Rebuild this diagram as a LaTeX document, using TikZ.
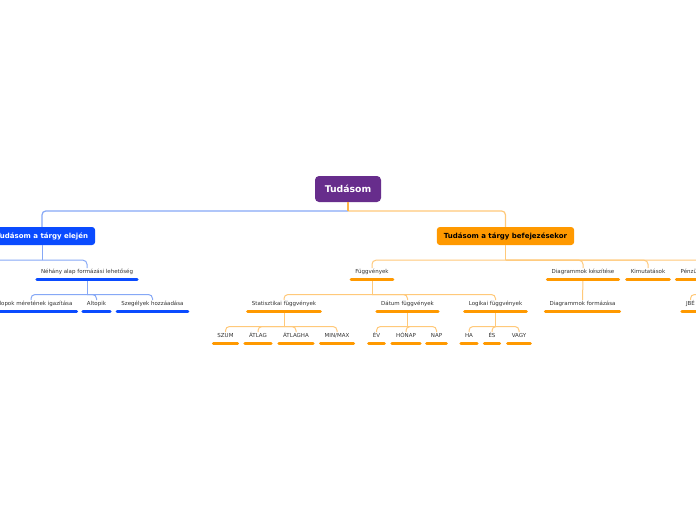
\documentclass[tikz,border=0pt]{standalone}
\usepackage{fontspec}
\setmainfont{DejaVu Sans}
\usetikzlibrary{calc}
\definecolor{purp}{HTML}{672D8C}
\definecolor{bl}{HTML}{0A4BFF}
\definecolor{blline}{HTML}{86A8F6}
\definecolor{orb}{HTML}{FF9900}
\definecolor{orline}{HTML}{FFC97A}
\definecolor{txt}{HTML}{333333}
\begin{document}
\begin{tikzpicture}[x=1pt,y=-1pt,
  rootbox/.style={fill=purp, text=white, font=\fontsize{9.3}{11}\selectfont\bfseries, rounded corners=4pt, minimum width=66pt, minimum height=26pt, inner sep=0pt},
  mainbox/.style={rounded corners=3pt, minimum height=18pt, inner xsep=7pt, inner ysep=0pt, font=\fontsize{7}{8}\selectfont\bfseries},
  mainbl/.style={mainbox, fill=bl, text=white},
  mainor/.style={mainbox, fill=orb, text=black},
  lbl/.style={font=\fontsize{5.5}{6.5}\selectfont, text=txt, text height=4pt, text depth=4.6pt, inner xsep=4pt, inner ysep=1pt, anchor=south},
  blbar/.style={draw=bl, line width=3pt, line cap=round},
  orbar/.style={draw=orb, line width=3pt, line cap=round},
  blconn/.style={draw=blline, line width=1pt, rounded corners=4pt},
  orconn/.style={draw=orline, line width=1pt, rounded corners=4pt},
  stem/.style={draw=orline!60!orb, line width=1pt}
]
\useasboundingbox (0,0) rectangle (696,520);
\fill[white] (0,0) rectangle (696,520);

% root and main topics
\node[rootbox] (root) at (348,189) {Tudásom};
\node[mainbl] (lt) at (42,236) {Tudásom a tárgy elején};
\node[mainor] (rt) at (505.5,236) {Tudásom a tárgy befejezésekor};

% left subtree
\node[lbl] (nah) at (87,279) {Néhány alap formázási lehetőség};
\node[lbl] (osz) at (31,311) {Oszlopok méretének igazítása};
\node[lbl] (alt) at (96.5,311) {Altopik};
\node[lbl] (sze) at (152.5,311) {Szegélyek hozzáadása};
\coordinate (offl) at (-60,300);

% right subtree
\node[lbl] (fv) at (372,279) {Függvények};
\node[lbl] (dk) at (583,279) {Diagrammok készítése};
\node[lbl] (kim) at (648,279) {Kimutatások};
\node[lbl] (pf) at (710,279) {Pénzügyi függvények};
\node[lbl] (stat) at (284,311) {Statisztikai függvények};
\node[lbl] (dat) at (407.5,311) {Dátum függvények};
\node[lbl] (log) at (495.5,311) {Logikai függvények};
\node[lbl] (df) at (582.5,311) {Diagrammok formázása};
\node[lbl] (jbe) at (690.5,311) {JBÉ};
\node[lbl] (szum) at (225.5,343) {SZUM};
\node[lbl] (atlag) at (258,343) {ÁTLAG};
\node[lbl] (atlagha) at (296,343) {ÁTLAGHA};
\node[lbl] (minmax) at (337,343) {MIN/MAX};
\node[lbl] (ev) at (376.5,343) {ÉV};
\node[lbl] (honap) at (406,343) {HÓNAP};
\node[lbl] (nap) at (436.5,343) {NAP};
\node[lbl] (ha) at (469,343) {HA};
\node[lbl] (es) at (492,343) {ÉS};
\node[lbl] (vagy) at (519,343) {VAGY};

% connectors: root
\coordinate (j0) at ($(root.south)+(0,8.7)$);
\draw[blconn, line width=1.2pt] (j0) -| (lt.north);
\draw[orconn, line width=1.2pt] (j0) -| (rt.north);
\draw[stem, line width=1.2pt] (root.south) -- (j0);

% left
\coordinate (jlt) at ($(lt.south)+(0,15)$);
\draw[blconn] (lt.south) -- (jlt);
\draw[blconn] (jlt) -| (nah.north);
\draw[blconn] (jlt) -| (offl);
\coordinate (jnah) at ($(nah.south)+(0,15.5)$);
\draw[blconn] (nah.south) -- (jnah);
\foreach \c in {osz,alt,sze} \draw[blconn] (jnah) -| (\c.north);

% right
\coordinate (jrt) at ($(rt.south)+(0,15)$);
\draw[orconn] (rt.south) -- (jrt);
\foreach \c in {fv,dk,kim,pf} \draw[orconn] (jrt) -| (\c.north);
\coordinate (jfv) at ($(fv.south)+(0,15.5)$);
\draw[orconn] (fv.south) -- (jfv);
\foreach \c in {stat,dat,log} \draw[orconn] (jfv) -| (\c.north);
\draw[orconn] (dk.south) -- (df.north);
\coordinate (jpf) at ($(pf.south)+(0,15.5)$);
\draw[orconn] (pf.south) -- (jpf);
\draw[orconn] (jpf) -| (jbe.north);
\coordinate (jst) at ($(stat.south)+(0,15.5)$);
\draw[orconn] (stat.south) -- (jst);
\foreach \c in {szum,atlag,atlagha,minmax} \draw[orconn] (jst) -| (\c.north);
\coordinate (jdt) at ($(dat.south)+(0,15.5)$);
\draw[orconn] (dat.south) -- (jdt);
\foreach \c in {ev,honap,nap} \draw[orconn] (jdt) -| (\c.north);
\coordinate (jlg) at ($(log.south)+(0,15.5)$);
\draw[orconn] (log.south) -- (jlg);
\foreach \c in {ha,es,vagy} \draw[orconn] (jlg) -| (\c.north);

% bars
\foreach \n in {nah,osz,alt,sze} \draw[blbar] (\n.south west) -- (\n.south east);
\foreach \n in {fv,dk,kim,pf,stat,dat,log,df,jbe,szum,atlag,atlagha,minmax,ev,honap,nap,ha,es,vagy}
  \draw[orbar] (\n.south west) -- (\n.south east);
\end{tikzpicture}
\end{document}
